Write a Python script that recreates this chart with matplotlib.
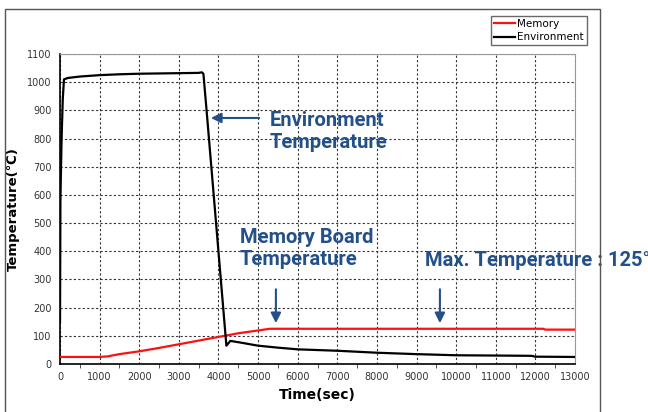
import matplotlib
matplotlib.use("Agg")
import matplotlib.pyplot as plt
from matplotlib.patches import Rectangle
from matplotlib.ticker import MultipleLocator

env_time = [0, 10, 40, 70, 100, 200, 500, 1000, 1500, 2000, 2500, 3000, 3500, 3580, 3620,
            3700, 4200, 4300, 4600, 5000, 5500, 6000, 7000, 8000, 9000, 10000, 11000,
            11900, 12000, 13000]
env_temp = [150, 580, 800, 940, 1010, 1015, 1020, 1025, 1028, 1030, 1031, 1032, 1033, 1035, 1030,
            900, 65, 82, 75, 65, 58, 52, 47, 40, 35, 31, 30,
            29, 26, 25]

mem_time = [0, 1000, 1200, 1500, 2000, 2500, 3000, 3500, 4000, 4500, 5000, 5300,
            12200, 12250, 13000]
mem_temp = [25, 25, 27, 35, 45, 57, 70, 83, 96, 109, 119, 125,
            125, 122, 122]

x_ticks = list(range(0, 13001, 1000))
y_ticks = list(range(0, 1101, 100))

text_blue = "#235089"

fig = plt.figure(figsize=(6.48, 4.12), dpi=100)
fig.patches.append(Rectangle((5 / 648, -0.1), (600 - 5) / 648, 1.1 - 9 / 412,
                             transform=fig.transFigure, fill=False,
                             edgecolor="#555555", linewidth=1.0))

ax = fig.add_axes([60 / 648, 1 - 364 / 412, (575 - 60) / 648, (364 - 54) / 412])
mem_line, = ax.plot(mem_time, mem_temp, color="#ff1010", lw=1.6, label="Memory", zorder=3)
env_line, = ax.plot(env_time, env_temp, color="black", lw=1.6, label="Environment", zorder=3)

ax.set_xlim(0, 13000)
ax.set_ylim(0, 1100)
ax.set_xticks(x_ticks)
ax.set_yticks(y_ticks)
ax.xaxis.set_minor_locator(MultipleLocator(500))
ax.tick_params(axis="both", which="major", length=0, labelsize=7, labelcolor="#333333", pad=6)
ax.tick_params(axis="x", which="minor", length=3, direction="out", color="#333333")
ax.grid(True, which="major", color="#333333", linestyle=(0, (2, 2)), linewidth=0.8)
ax.set_axisbelow(True)
for s in ["top", "right"]:
    ax.spines[s].set_color("#999999")
for s in ["left", "bottom"]:
    ax.spines[s].set_color("black")
    ax.spines[s].set_linewidth(1.2)

ax.set_xlabel("Time(sec)", fontsize=10, fontweight="bold")
ax.set_ylabel("Temperature(℃)", fontsize=9.5, fontweight="bold")
ax.xaxis.set_label_coords(0.5, -(388 - 364) / 310)
ax.yaxis.set_label_coords(-(60 - 20) / 515, 0.5)

leg = fig.legend(handles=[mem_line, env_line], loc="upper right",
                 bbox_to_anchor=(587 / 648, 1 - 16 / 412), fontsize=7.5,
                 frameon=True, fancybox=False, handlelength=2.0, handletextpad=0.2,
                 borderpad=0.3, labelspacing=0.3, borderaxespad=0)
leg.get_frame().set_edgecolor("#444444")
leg.get_frame().set_linewidth(1.0)

tfont = dict(color=text_blue, fontsize=14.5, fontweight="bold", family="Roboto")
arrow = dict(arrowstyle="-|>,head_length=0.6,head_width=0.3", color=text_blue, lw=1.5)

ax.annotate("", xy=(3740, 873), xytext=(5100, 873), arrowprops=arrow)
ax.text(5300, 865, "Environment", va="center", ha="left", **tfont)
ax.text(5300, 785, "Temperature", va="center", ha="left", **tfont)

ax.text(4540, 448, "Memory Board", va="center", ha="left", **tfont)
ax.text(4540, 370, "Temperature", va="center", ha="left", **tfont)
ax.annotate("", xy=(5450, 135), xytext=(5450, 275), arrowprops=arrow)

ax.text(9214, 366, "Max. Temperature : 125°C", va="center", ha="left",
        clip_on=False, **tfont)
ax.annotate("", xy=(9590, 135), xytext=(9590, 275), arrowprops=arrow)

fig.savefig("out.png", dpi=100)
